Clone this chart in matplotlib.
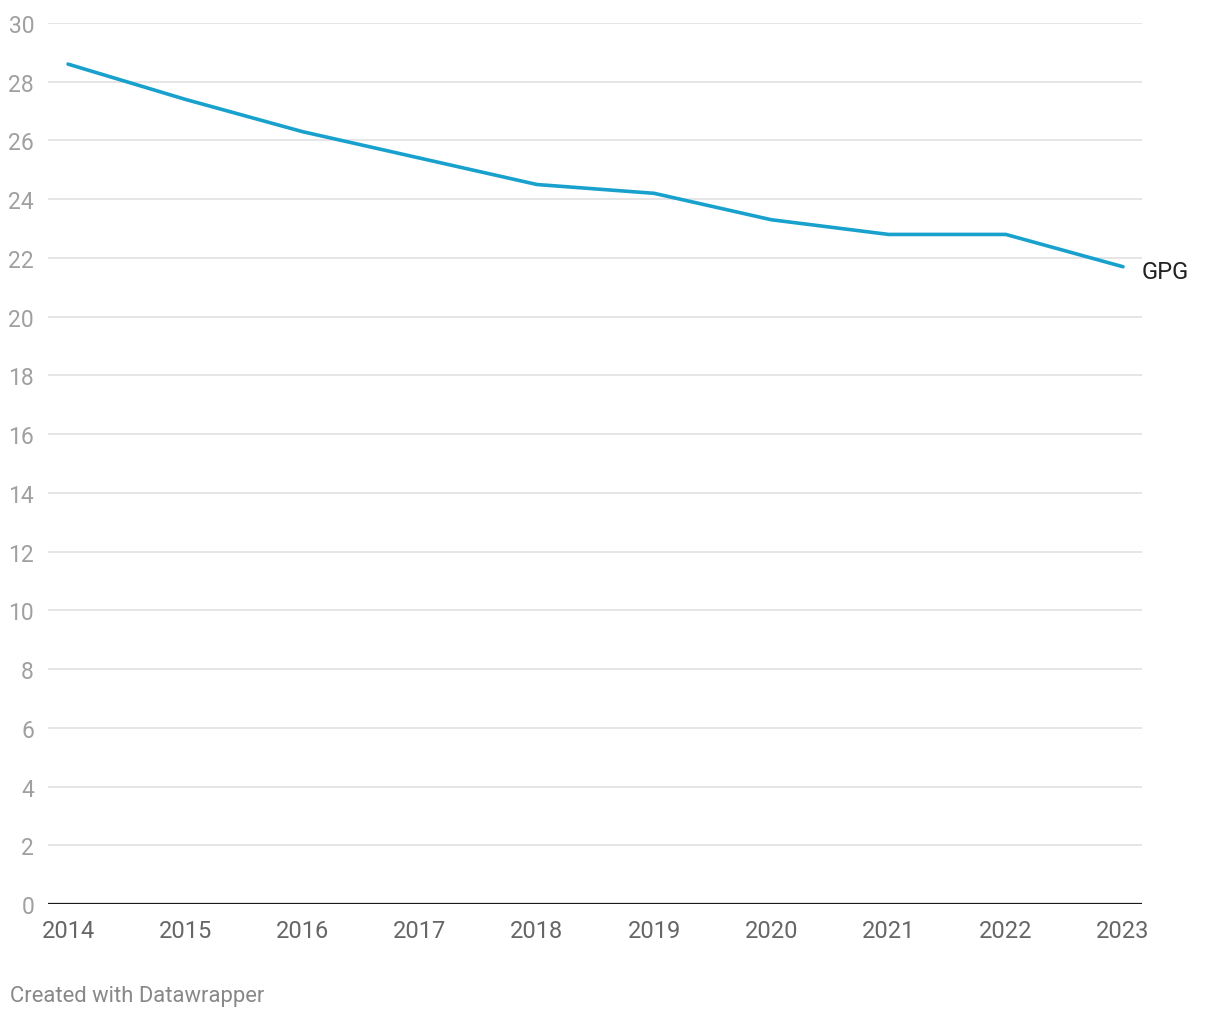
import matplotlib.pyplot as plt

plt.rcParams['font.family'] = ['Roboto', 'DejaVu Sans']

years = [2014, 2015, 2016, 2017, 2018, 2019, 2020, 2021, 2022, 2023]
gpg = [28.6, 27.4, 26.3, 25.4, 24.5, 24.2, 23.3, 22.8, 22.8, 21.7]
yticks = list(range(0, 31, 2))

fig = plt.figure(figsize=(12.2, 10.2), dpi=100)
ax = fig.add_axes([48/1220, 115/1020, 1094/1220, 881/1020])

ax.plot(years, gpg, color='#18a1cd', lw=2.6, solid_capstyle='round', zorder=3)
ax.text(years[-1] + 0.16, gpg[-1] - 0.15, 'GPG', fontsize=17, color='#222222',
        va='center', ha='left')

ax.set_xlim(2013.829, 2023.162)
ax.set_ylim(0, 30)
ax.set_yticks(yticks)
ax.set_xticks(years)
ax.grid(axis='y', color='#e0e0e0', lw=1.2)
ax.axhline(0, color='#1a1a1a', lw=1.6, zorder=4)
for s in ax.spines.values():
    s.set_visible(False)
ax.tick_params(axis='y', length=0, pad=10, labelsize=16.5, labelcolor='#a0a0a0')
ax.tick_params(axis='x', length=0, pad=11, labelsize=17, labelcolor='#666666')

fig.text(10/1220, 1 - 997/1020, 'Created with Datawrapper', fontsize=15.8,
         color='#888888', va='center', ha='left')

fig.savefig('out.png', dpi=100)
